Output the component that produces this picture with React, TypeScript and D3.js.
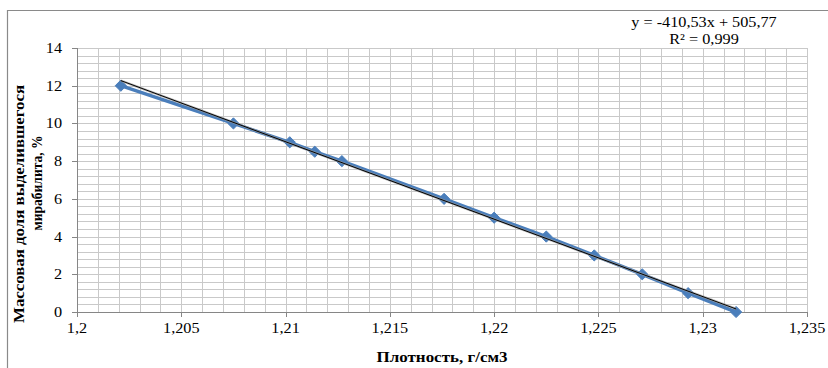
import React from 'react';
import * as d3 from 'd3';

// density, g/cm3 and mass fraction of mirabilite, %
const density = [1.2021, 1.2075, 1.2102, 1.2114, 1.2127, 1.2176, 1.2200, 1.2225, 1.2248, 1.2271, 1.2293, 1.2316];
const fraction = [12, 10, 9, 8.5, 8, 6, 5, 4, 3, 2, 1, 0];

const xTicks = [1.2, 1.205, 1.21, 1.215, 1.22, 1.225, 1.23, 1.235];
const yTicks = [0, 2, 4, 6, 8, 10, 12, 14];

// linear trend shown on the chart
const slope = -410.53;
const intercept = 505.77;
const equationText = 'y = -410,53x + 505,77';
const r2Text = 'R² = 0,999';

const W = 828;
const H = 368;
const margin = { top: 48, right: 21, bottom: 56, left: 77 };
const font = "'Liberation Serif'";
const stretch = 1.16;

const fmt = (v: number) => String(v).replace('.', ',');

const App = () => {
  const x = d3.scaleLinear().domain([1.2, 1.235]).range([margin.left, W - margin.right]);
  const y = d3.scaleLinear().domain([0, 14]).range([H - margin.bottom, margin.top]);

  const vGrid = d3.range(1, 36).map((i) => 1.2 + i * 0.001);
  const hGrid = d3.range(1, 36).map((i) => i * 0.4);

  const points = density.map((d, i) => [d, fraction[i]] as [number, number]);
  const line = d3.line<[number, number]>().x((d) => x(d[0])).y((d) => y(d[1]));

  const [x0, x1] = d3.extent(density) as [number, number];
  const trend: [number, number][] = [
    [x0, slope * x0 + intercept],
    [x1, slope * x1 + intercept],
  ];

  const diamond = d3.symbol().type(d3.symbolDiamond2).size(80)();

  const stretched = (tx: number, ty: number, text: string, anchor: string) => (
    <text
      transform={`translate(${tx},${ty}) scale(${stretch},1)`}
      textAnchor={anchor}
      style={{ fontFamily: font, fontSize: '14px' }}
      fill="#000"
    >
      {text}
    </text>
  );

  const x0px = margin.left;
  const y0px = y(0);

  return (
    <svg width={W} height={H} style={{ position: 'absolute', left: 0, top: 0, background: '#fff' }}>
      <rect x={0} y={0} width={W} height={H} fill="#fff" />
      {/* outer frame */}
      <line x1={7} y1={10.5} x2={W} y2={10.5} stroke="#8a8a8a" strokeWidth={1.2} />
      <line x1={7.5} y1={10} x2={7.5} y2={H} stroke="#8a8a8a" strokeWidth={1.2} />

      {/* gridlines */}
      <g stroke="#c9c9c9" strokeWidth={1}>
        {vGrid.map((v, i) => (
          <line key={'v' + i} x1={Math.round(x(v)) + 0.5} x2={Math.round(x(v)) + 0.5} y1={y(14)} y2={y0px} />
        ))}
        {hGrid.map((v, i) => (
          <line key={'h' + i} x1={x0px} x2={x(1.235)} y1={Math.round(y(v)) + 0.5} y2={Math.round(y(v)) + 0.5} />
        ))}
      </g>

      {/* axes */}
      <g stroke="#868686" strokeWidth={1}>
        <line x1={x0px + 0.5} x2={x0px + 0.5} y1={y(14)} y2={y0px} />
        <line x1={x0px} x2={x(1.235)} y1={Math.round(y0px) + 0.5} y2={Math.round(y0px) + 0.5} />
        {yTicks.map((t) => (
          <line key={'yt' + t} x1={x0px - 5} x2={x0px} y1={Math.round(y(t)) + 0.5} y2={Math.round(y(t)) + 0.5} />
        ))}
        {xTicks.map((t) => (
          <line key={'xt' + t} x1={Math.round(x(t)) + 0.5} x2={Math.round(x(t)) + 0.5} y1={y0px} y2={y0px + 5} />
        ))}
      </g>

      {/* tick labels */}
      {yTicks.map((t) => (
        <g key={'yl' + t}>{stretched(62, y(t) + 5, fmt(t), 'end')}</g>
      ))}
      {xTicks.map((t) => (
        <g key={'xl' + t}>{stretched(x(t), y0px + 21, fmt(t), 'middle')}</g>
      ))}

      {/* series */}
      <path d={line(points) || ''} fill="none" stroke="#4a7ebb" strokeWidth={3.5} strokeLinejoin="round" />
      {points.map((p, i) => (
        <path key={'m' + i} d={diamond || ''} transform={`translate(${x(p[0])},${y(p[1])})`} fill="#4a7ebb" stroke="#4a7ebb" strokeWidth={1} />
      ))}

      {/* trendline */}
      <path d={line(trend) || ''} fill="none" stroke="#9a9a9a" strokeWidth={2.4} opacity={0.7} />
      <path d={line(trend) || ''} fill="none" stroke="#000" strokeWidth={1} />

      {/* equation */}
      {stretched(704, 27, equationText, 'middle')}
      {stretched(704, 44, r2Text, 'middle')}

      {/* axis titles */}
      <text
        x={(x0px + x(1.235)) / 2}
        y={362}
        textAnchor="middle"
        style={{ fontFamily: font, fontSize: '14px', fontWeight: 'bold' }}
        textLength={131}
        lengthAdjust="spacingAndGlyphs"
      >
        Плотность, г/см3
      </text>
      <text
        transform="translate(24,204) rotate(-90)"
        textAnchor="middle"
        style={{ fontFamily: font, fontSize: '14px', fontWeight: 'bold' }}
        textLength={238}
        lengthAdjust="spacingAndGlyphs"
      >
        Массовая доля выделившегося
      </text>
      <text
        transform="translate(42,183) rotate(-90)"
        textAnchor="middle"
        style={{ fontFamily: font, fontSize: '14px', fontWeight: 'bold' }}
        textLength={95}
        lengthAdjust="spacingAndGlyphs"
      >
        мирабилита, %
      </text>
    </svg>
  );
};

export default App;
